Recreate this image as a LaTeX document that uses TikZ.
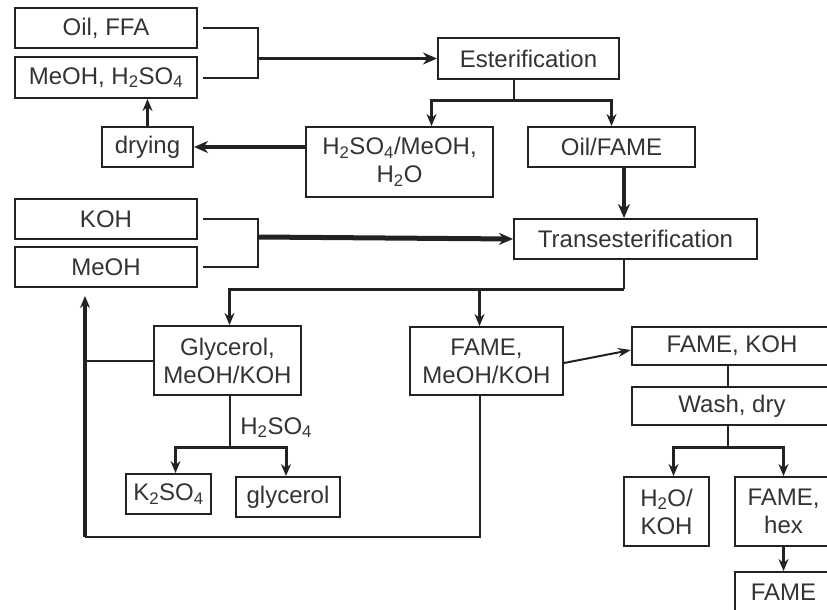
\documentclass[tikz,border=0pt]{standalone}
\usepackage{fontspec}
\setmainfont{Liberation Sans}
\usetikzlibrary{arrows.meta}
\definecolor{ink}{HTML}{222222}
\definecolor{txt}{HTML}{333333}
\tikzset{
  box/.style 2 args={draw=ink, line width=2pt, text=txt, align=center,
    inner sep=0pt, minimum width=#1pt, minimum height=#2pt},
  link/.style={draw=ink, line width=2pt},
  arr/.style={link, line width=3pt, -{Stealth[length=12pt,width=10pt]}},
  bigarr/.style={link, line width=4pt, -{Stealth[length=14pt,width=12pt]}},
  thinarr/.style={link, -{Stealth[length=13pt,width=9pt]}}
}
\begin{document}
\begin{tikzpicture}[x=1pt,y=-1pt,font=\fontsize{24}{28}\selectfont]
\useasboundingbox (0,0) rectangle (827,610);
\clip (0,0) rectangle (827,610);
% esterification stage
\node[box={182}{40}] (oil) at (106,28) {Oil, FFA};
\node[box={182}{41}] (meohacid) at (106,77.5) {MeOH, H\textsubscript{2}SO\textsubscript{4}};
\node[box={91}{40}] (drying) at (147.5,147) {drying};
\node[box={181}{41}] (ester) at (528.5,58.5) {Esterification};
\node[box={187}{70}] (acid) at (399.5,162) {H\textsubscript{2}SO\textsubscript{4}/MeOH,\\H\textsubscript{2}O};
\node[box={167}{40}] (oilfame) at (611.5,147) {Oil/FAME};
% transesterification stage
\node[box={182}{40}] (koh) at (106,219) {KOH};
\node[box={182}{40}] (meoh) at (106,267) {MeOH};
\node[box={243}{40}] (trans) at (635.5,239) {Transesterification};
\node[box={147}{69}] (glyc) at (227.5,360.5) {Glycerol,\\MeOH/KOH};
\node[box={153}{68}] (fame) at (486.5,361) {FAME,\\MeOH/KOH};
\node[box={85}{40}] (kso) at (168.5,494) {K\textsubscript{2}SO\textsubscript{4}};
\node[box={104}{40}] (glycerol) at (288,497) {glycerol};
% washing
\node[box={200}{38}] (famekoh) at (732,346) {FAME, KOH};
\node[box={200}{38}] (wash) at (732,406) {Wash, dry};
\node[box={85}{69}] (hko) at (666.5,511.5) {H\textsubscript{2}O/\\KOH};
\node[box={97}{69}] (famehex) at (783.5,511.5) {FAME,\\hex};
\node[box={97}{40}] (famefin) at (783.5,592) {FAME};
% junctions
\coordinate (j1) at (258,58.5);
\coordinate (j2) at (258,237);
\coordinate (e1) at (514,100);
\coordinate (t1) at (624,289);
\coordinate (g1) at (230,447);
\coordinate (w1) at (728,447);
\coordinate (r1) at (85,537);
% connectors
\draw[link] ([xshift=5pt]oil.east) -| (j1) |- ([xshift=5pt]meohacid.east);
\draw[bigarr, line width=3.4pt] (j1) -- (ester.west);
\draw[link] (ester.south -| e1) -- (e1);
\draw[arr] (e1) -| ([xshift=32pt]acid.north);
\draw[arr] (e1) -| (oilfame.north);
\draw[bigarr] (acid.west |- drying.east) -- (drying.east);
\draw[arr] (drying.north) -- (drying.north |- meohacid.south);
\draw[bigarr, line width=4.6pt] (oilfame.south -| t1) -- (trans.north -| t1);
\draw[link] ([xshift=5pt]koh.east) -| (j2) |- ([xshift=5pt]meoh.east);
\draw[bigarr, line width=5pt] (j2) -- (trans.west);
\draw[link] (trans.south -| t1) -- (t1);
\draw[arr] (t1) -| ([xshift=2pt]glyc.north);
\draw[arr] ([xshift=-7pt]fame.north |- t1) -- ([xshift=-7pt]fame.north);
\draw[link] (glyc.south -| g1) -- (g1)
  node[pos=0.62, right=6pt, text=txt] (acidlabel) {H\textsubscript{2}SO\textsubscript{4}};
\draw[arr] (g1) -| ([xshift=7pt]kso.north);
\draw[arr] (g1) -| ([xshift=-2pt]glycerol.north);
\draw[link] ([xshift=-7pt]fame.south) |- (r1);
\draw[arr, line width=3.4pt, shorten >=8pt] (r1) -- (r1 |- meoh.south);
\draw[link] (glyc.west) -- (glyc.west -| r1);
\draw[thinarr] ([yshift=-2pt]fame.east) -- ([yshift=-4pt]famekoh.west);
\draw[link] ([xshift=-4pt]famekoh.south) -- ([xshift=-4pt]wash.north);
\draw[link] (wash.south -| w1) -- (w1);
\draw[arr] (w1) -| ([xshift=7pt]hko.north);
\draw[arr] (w1) -| (famehex.north);
\draw[arr] (famehex.south) -- (famefin.north);
\end{tikzpicture}
\end{document}
